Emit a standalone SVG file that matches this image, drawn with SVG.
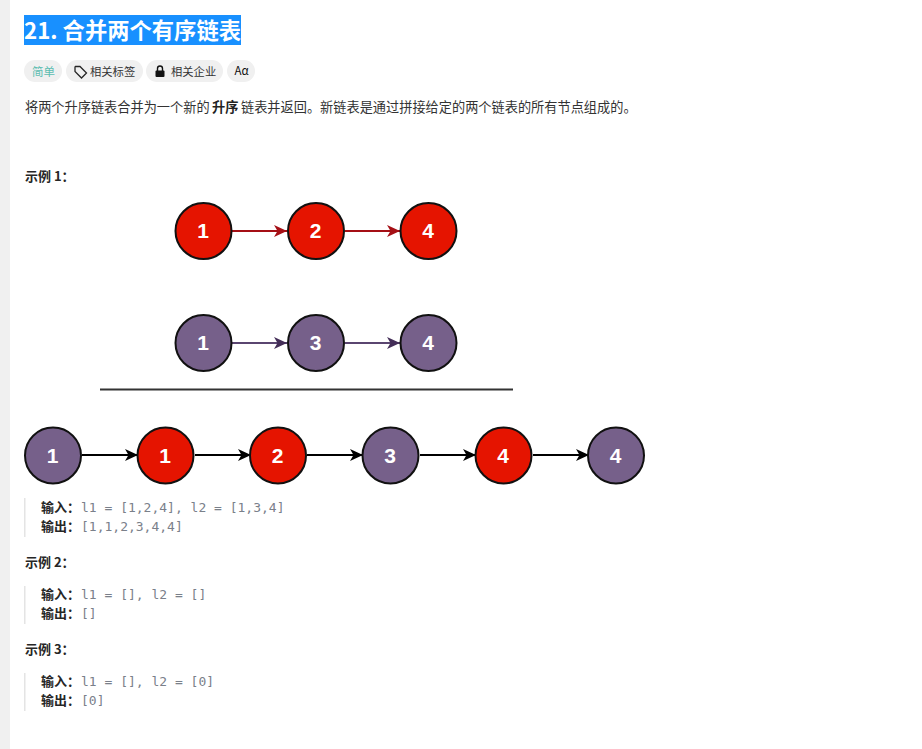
<svg xmlns="http://www.w3.org/2000/svg" width="922" height="749" viewBox="0 0 922 749">
<style>
.n{stroke:#111;stroke-width:2}
.r{fill:#e51400}.p{fill:#76608a}
.nt{font:bold 21px "Liberation Sans",Arial,sans-serif;fill:#fff;text-anchor:middle}
.ui{font-family:"Noto Sans CJK SC","Noto Sans",sans-serif}
.b{font-weight:700}
.t{font-size:13.2px;fill:#333}
.l{font-size:13px;font-weight:700;fill:#262626}
.m{font-family:"DejaVu Sans Mono","Liberation Mono",monospace;font-size:13px;fill:#7a808a}
.tag{fill:#f0f0f0}
.q{fill:#e4e4e4}
</style>
<defs>
<marker id="ar" markerUnits="userSpaceOnUse" markerWidth="14" markerHeight="14" refX="13" refY="7" orient="auto"><path d="M0 1L13 7L0 13L3.500 7Z" fill="#a50f15"/></marker>
<marker id="ap" markerUnits="userSpaceOnUse" markerWidth="14" markerHeight="14" refX="13" refY="7" orient="auto"><path d="M0 1L13 7L0 13L3.500 7Z" fill="#432d57"/></marker>
<marker id="ak" markerUnits="userSpaceOnUse" markerWidth="14" markerHeight="14" refX="13" refY="7" orient="auto"><path d="M0 1L13 7L0 13L3.500 7Z" fill="#000"/></marker>
</defs>
<rect width="922" height="749" fill="#fff"/>
<rect id="sidebar" width="10" height="749" fill="#f0f0f0"/>
<g id="title">
<rect x="24" y="15" width="217" height="30" fill="#1890ff"/>
<text x="24" y="39" class="ui b" font-size="22.300" fill="#fff">21. 合并两个有序链表</text>
</g>
<g id="tag-easy"><rect class="tag" x="24" y="60" width="38" height="22" rx="11"/><text x="32" y="75.500" class="ui" font-size="11.500" fill="#5cbdb0">简单</text></g>
<g id="tag-topics"><rect class="tag" x="66" y="60" width="77" height="22" rx="11"/>
<path d="M75 67v4.500l6.500 6.500 5-5-6.500-6.500h-4.500z" fill="none" stroke="#262626" stroke-width="1.300"/><text x="90" y="75.500" class="ui" font-size="11.300" fill="#333">相关标签</text></g>
<g id="tag-company"><rect class="tag" x="146" y="60" width="77" height="22" rx="11"/>
<path d="M157.500 71v-2.500a2.500 2.500 0 0 1 5 0V71" fill="none" stroke="#111" stroke-width="1.400"/><rect x="155.500" y="70.500" width="9" height="6.500" rx="1" fill="#111"/><text x="171" y="75.500" class="ui" font-size="11.300" fill="#333">相关企业</text></g>
<g id="tag-font"><rect class="tag" x="227" y="60" width="28" height="22" rx="11"/><text x="234.500" y="75" class="ui" font-size="11.500" fill="#111">Aα</text></g>
<text id="desc" x="25" y="112" class="ui t">将两个升序链表合并为一个新的 <tspan class="b" fill="#222" x="212">升序</tspan> <tspan x="241">链表并返回。新链表是通过拼接给定的两个链表的所有节点组成的。</tspan></text>
<text id="ex1" x="25" y="181" class="ui l">示例 1：</text>
<g id="connectors" fill="none" stroke-width="2">
<path d="M232 231H287" stroke="#a50f15" marker-end="url(#ar)"/>
<path d="M345 231H400" stroke="#a50f15" marker-end="url(#ar)"/>
<path d="M232 343H287" stroke="#5a4570" marker-end="url(#ap)"/>
<path d="M345 343H400" stroke="#5a4570" marker-end="url(#ap)"/>
<path d="M82 455H138" stroke="#000" marker-end="url(#ak)"/>
<path d="M195 455H251" stroke="#000" marker-end="url(#ak)"/>
<path d="M307 455H363" stroke="#000" marker-end="url(#ak)"/>
<path d="M420 455H476" stroke="#000" marker-end="url(#ak)"/>
<path d="M533 455H589" stroke="#000" marker-end="url(#ak)"/>
</g>
<g id="a1"><circle class="n r" cx="203.500" cy="231" r="28"/><text class="nt" x="203" y="238">1</text></g>
<g id="a2"><circle class="n r" cx="316" cy="231" r="28"/><text class="nt" x="315.500" y="238">2</text></g>
<g id="a3"><circle class="n r" cx="428.500" cy="231" r="28"/><text class="nt" x="428" y="238">4</text></g>
<g id="b1"><circle class="n p" cx="203.500" cy="343" r="28"/><text class="nt" x="203" y="350">1</text></g>
<g id="b2"><circle class="n p" cx="316" cy="343" r="28"/><text class="nt" x="315.500" y="350">3</text></g>
<g id="b3"><circle class="n p" cx="428.500" cy="343" r="28"/><text class="nt" x="428" y="350">4</text></g>
<path id="divider" d="M100 389.500H513" stroke="#333" stroke-width="2" fill="none"/>
<g id="c1"><circle class="n p" cx="53" cy="455.500" r="28"/><text class="nt" x="52.500" y="463">1</text></g>
<g id="c2"><circle class="n r" cx="165.500" cy="455.500" r="28"/><text class="nt" x="165" y="463">1</text></g>
<g id="c3"><circle class="n r" cx="278" cy="455.500" r="28"/><text class="nt" x="277.500" y="463">2</text></g>
<g id="c4"><circle class="n p" cx="390.500" cy="455.500" r="28"/><text class="nt" x="390" y="463">3</text></g>
<g id="c5"><circle class="n r" cx="503.500" cy="455.500" r="28"/><text class="nt" x="503" y="463">4</text></g>
<g id="c6"><circle class="n p" cx="616" cy="455.500" r="28"/><text class="nt" x="615.500" y="463">4</text></g>
<rect class="q" x="24" y="498" width="1.500" height="39"/>
<text x="41" y="512" class="ui l">输入：</text><text x="81" y="512" class="m">l1 = [1,2,4], l2 = [1,3,4]</text>
<text x="41" y="531" class="ui l">输出：</text><text x="81" y="531" class="m">[1,1,2,3,4,4]</text>
<text id="ex2" x="25" y="567" class="ui l">示例 2：</text>
<rect class="q" x="24" y="586" width="1.500" height="38"/>
<text x="41" y="599" class="ui l">输入：</text><text x="81" y="599" class="m">l1 = [], l2 = []</text>
<text x="41" y="618" class="ui l">输出：</text><text x="81" y="618" class="m">[]</text>
<text id="ex3" x="25" y="654" class="ui l">示例 3：</text>
<rect class="q" x="24" y="673" width="1.500" height="38"/>
<text x="41" y="686" class="ui l">输入：</text><text x="81" y="686" class="m">l1 = [], l2 = [0]</text>
<text x="41" y="705" class="ui l">输出：</text><text x="81" y="705" class="m">[0]</text>
</svg>
